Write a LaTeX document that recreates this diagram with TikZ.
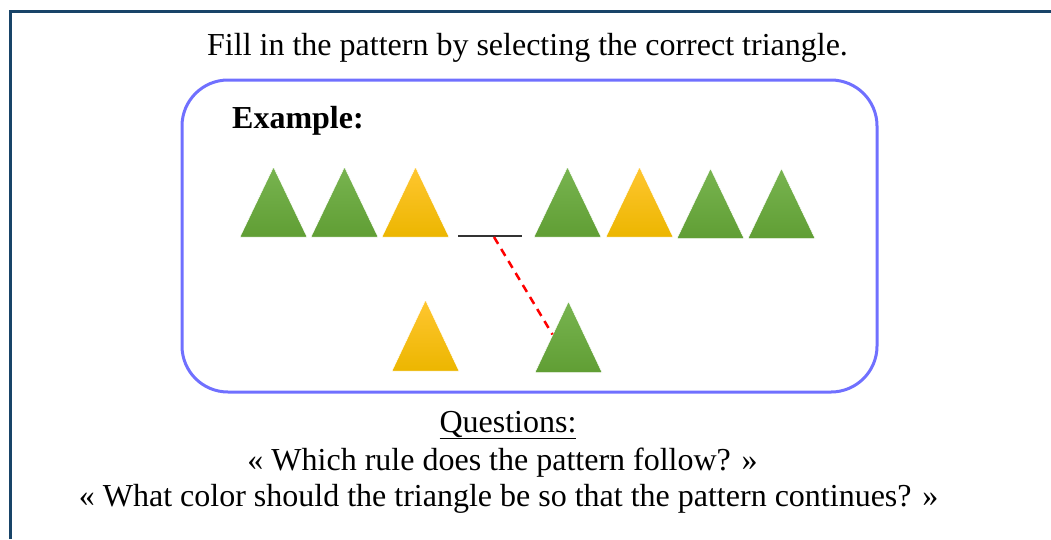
\documentclass[tikz,border=0pt]{standalone}
\usepackage{fontspec}
\setmainfont{Liberation Serif}
\usetikzlibrary{positioning}

\definecolor{framecol}{RGB}{24,68,104}
\definecolor{boxcol}{RGB}{112,112,255}
\definecolor{greentop}{RGB}{120,180,80}
\definecolor{greenbot}{RGB}{96,158,52}
\definecolor{goldtop}{RGB}{255,198,48}
\definecolor{goldbot}{RGB}{236,182,0}

\tikzset{
  greentri/.style={top color=greentop, bottom color=greenbot, draw=white, line width=0.5pt},
  goldtri/.style={top color=goldtop, bottom color=goldbot, draw=white, line width=0.5pt},
  txt/.style={font=\fontsize{32}{36}\selectfont, inner sep=0pt, anchor=base},
}

\begin{document}
\begin{tikzpicture}[x=1pt, y=-1pt]
    \useasboundingbox (0,0) rectangle (1051,539);

    % Page frame
    \draw[framecol, line width=3pt] (10.7,539) -- (10.7,11.7) -- (1051,11.7);

    % Title
    \node[txt] (title) at (527.5,55) {Fill in the pattern by selecting the correct triangle.};

    % Example box
    \draw[boxcol, line width=3pt, rounded corners=46pt] (182,80) rectangle (877,392);
    \node[txt, anchor=base west, font=\fontsize{32}{36}\selectfont\bfseries] (example) at (232,128) {Example:};

    % --- Pattern row ---
    \foreach \x/\s in {240/greentri, 311/greentri, 382/goldtri, 534/greentri, 606/goldtri} {
        \path[\s] (\x,237) -- ++(67,0) -- ++(-33.5,-70) -- cycle;
    }
    \foreach \x/\s in {677/greentri, 748/greentri} {
        \path[\s] (\x,238.5) -- ++(67,0) -- ++(-33.5,-70) -- cycle;
    }

    % Blank slot
    \draw[black!80, line width=2pt] (458,236) -- (522,236);
    \coordinate (gap) at (494,237);

    % --- Choices ---
    % yellow choice
    \path[goldtri] (392,371) -- ++(67,0) -- ++(-33.5,-71) -- cycle;
    % green choice (the answer)
    \path[greentri] (535,372.5) -- ++(67,0) -- ++(-33.5,-71) -- cycle;
    \coordinate (answer) at (552.5,334.5);

    % Link from blank to answer
    \draw[red, line width=2.5pt, dash pattern=on 8pt off 6pt] (gap) -- (answer);

    % Questions
    \node[txt] (qhead) at (508,432) {\underline{Questions:}};
    \node[txt] (qone) at (502.5,470) {« Which rule does the pattern follow? »};
    \node[txt] (qtwo) at (508.5,506) {« What color should the triangle be so that the pattern continues? »};
\end{tikzpicture}
\end{document}
